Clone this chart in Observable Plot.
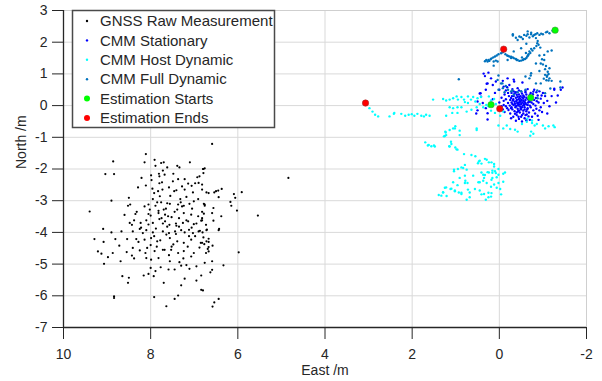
<!DOCTYPE html>
<html><head><meta charset="utf-8">
<script src="https://cdn.jsdelivr.net/npm/d3@7"></script>
<script src="https://cdn.jsdelivr.net/npm/@observablehq/plot@0.6"></script>
<style>
body{margin:0;background:#fff;}
#chart{position:relative;width:602px;height:381px;}
</style>
</head><body>
<div id="chart"></div>
<script>
// ---------- data (East /m, North /m) ----------
const xTicks = [10, 8, 6, 4, 2, 0, -2];
const yTicks = [3, 2, 1, 0, -1, -2, -3, -4, -5, -6, -7];
const legendLabels = ["GNSS Raw Measurement", "CMM Stationary", "CMM Host Dynamic", "CMM Full Dynamic", "Estimation Starts", "Estimation Ends"];
const seriesColors = ["#000000", "#0000ff", "#00ffff", "#0072bd", "#00ff00", "#ff0000"];

const gnss = [
[8.86,-1.76],[9.04,-2.16],[8.84,-2.16],[8.11,-1.53],[8.14,-1.79],[7.91,-1.71],[7.89,-1.90],[7.76,-1.81],[7.70,-1.79],[7.62,-1.95],
[7.39,-1.90],[7.34,-1.95],[7.10,-1.79],[6.80,-2.0],[8.21,-2.28],[7.99,-2.20],[7.80,-2.23],[7.81,-2.15],[7.68,-2.18],[7.49,-2.39],
[7.37,-2.32],[7.74,-2.42],[8.29,-2.58],[8.11,-2.52],[7.14,-2.46],[7.06,-2.53],[6.93,-2.26],[6.90,-2.44],[7.92,-2.76],[7.83,-2.70],
[7.73,-2.65],[7.79,-2.86],[7.46,-2.70],[7.41,-2.67],[7.22,-2.65],[7.03,-2.74],[6.72,-2.74],[8.50,-2.91],[8.90,-3.0],[8.52,-3.16],
[8.47,-3.12],[8.14,-3.18],[8.05,-3.12],[7.89,-3.16],[7.76,-3.05],[7.56,-3.10],[7.37,-3.12],[7.31,-3.05],[7.24,-3.16],[7.11,-3.10],
[7.01,-3.02],[6.91,-2.95],[6.76,-3.12],[9.40,-3.34],[8.35,-3.42],[8.05,-3.42],[8.0,-3.47],[7.82,-3.39],[7.70,-3.28],[7.67,-3.44],
[7.60,-3.49],[7.39,-3.28],[7.24,-3.39],[7.07,-3.44],[6.91,-3.49],[6.78,-3.41],[8.48,-3.70],[8.23,-3.70],[8.10,-3.62],[7.95,-3.70],
[7.80,-3.58],[7.67,-3.65],[7.57,-3.76],[7.41,-3.79],[7.26,-3.70],[7.14,-3.65],[7.01,-3.74],[6.82,-3.62],[8.43,-3.76],[9.09,-3.89],
[8.90,-4.0],[8.67,-3.97],[8.41,-3.97],[8.25,-3.89],[8.10,-3.93],[7.95,-4.0],[7.72,-3.97],[7.64,-4.07],[7.44,-3.97],[7.30,-3.93],
[7.22,-4.0],[7.03,-4.02],[6.90,-3.97],[6.72,-3.93],[9.29,-4.21],[9.08,-4.30],[8.81,-4.21],[8.54,-4.21],[8.33,-4.21],[8.14,-4.23],
[7.99,-4.18],[7.85,-4.28],[7.56,-4.18],[7.39,-4.28],[7.24,-4.33],[7.07,-4.23],[6.85,-4.33],[6.72,-4.28],[8.41,-4.49],[8.25,-4.57],
[8.08,-4.49],[7.91,-4.59],[7.72,-4.55],[7.53,-4.55],[7.37,-4.65],[7.24,-4.59],[7.01,-4.65],[9.21,-4.60],[9.13,-4.67],[8.98,-4.78],
[8.87,-4.65],[8.43,-4.73],[8.10,-4.81],[7.99,-4.86],[7.82,-4.81],[7.56,-4.91],[7.34,-4.94],[7.07,-4.76],[9.07,-4.99],[8.69,-4.91],
[8.0,-5.12],[7.77,-5.10],[7.89,-5.22],[7.59,-5.17],[7.45,-5.17],[7.30,-5.05],[7.18,-5.03],[7.11,-5.15],[6.95,-5.07],[8.65,-5.38],
[8.50,-5.43],[8.52,-5.59],[8.16,-5.36],[8.05,-5.31],[7.93,-5.38],[7.70,-5.59],[7.30,-5.67],[7.22,-5.46],[6.95,-5.52],[6.84,-5.81],
[8.84,-6.02],[8.84,-6.07],[7.92,-6.04],[7.64,-6.33],[7.45,-6.10],[7.37,-5.99],[6.76,-4.96],
[6.59,-1.21],[6.79,-2.0],[6.76,-1.98],[6.79,-2.13],[6.88,-2.23],[6.82,-2.49],[6.82,-2.65],[6.67,-2.76],[6.54,-2.74],[6.50,-2.70],
[6.45,-2.68],[6.37,-2.63],[6.44,-2.89],[6.09,-2.79],[6.06,-2.91],[5.91,-2.73],[6.17,-3.04],[6.15,-3.16],[6.78,-3.10],[6.76,-3.16],
[6.56,-3.23],[6.59,-3.39],[6.02,-3.31],[6.38,-3.49],[6.56,-3.63],[6.73,-3.76],[6.82,-3.55],[6.84,-3.63],[6.71,-3.91],[6.44,-3.93],
[6.43,-3.89],[6.87,-3.95],[6.81,-4.0],[6.79,-4.16],[6.67,-4.20],[6.67,-4.30],[6.77,-4.37],[6.82,-4.33],[6.58,-4.42],[6.67,-4.46],
[6.69,-4.52],[6.67,-4.60],[6.73,-4.65],[5.98,-4.63],[6.59,-4.91],[6.33,-5.04],[6.59,-5.18],[6.63,-5.26],[6.84,-5.36],[6.80,-5.83],
[6.44,-6.10],[6.54,-6.21],[6.58,-6.34],[4.84,-2.28],[5.54,-3.47],
[7.95,-2.95],[7.85,-3.05],[7.55,-2.85],[7.45,-3.35],[7.35,-3.55],[7.65,-3.25],[7.75,-3.55],[8.05,-3.75],[7.88,-3.88],[7.52,-3.52],
[7.28,-3.18],[7.18,-3.62],[7.62,-3.82],[7.42,-4.05],[7.12,-4.12],[7.92,-4.12],[8.18,-4.02],[7.78,-4.25],[7.48,-4.38],[7.15,-4.45],
[7.68,-4.55],[8.0,-4.4],[8.28,-4.3],[7.32,-2.95],[7.05,-3.25],[7.18,-2.88],[6.95,-3.72],[6.98,-4.12],[8.32,-3.35],[8.22,-3.85],
[7.58,-2.58],[7.8,-2.45],[7.96,-2.62],[7.22,-2.32],[6.98,-2.45],[7.72,-3.72],[7.42,-3.72],[7.06,-3.85],[7.86,-4.45],[7.58,-4.72],
[7.25,-4.82],[8.12,-4.65],[8.38,-3.62],[8.6,-3.45],[8.72,-4.42],[8.55,-4.62],[6.88,-4.48],[6.82,-3.35],[7.48,-2.15],[7.72,-2.05],
[7.62,-3.08],[7.35,-3.82],[7.58,-4.02],[7.82,-3.32],[8.02,-3.28],[7.98,-2.35],[7.28,-2.55],[7.12,-3.92],[7.52,-4.45],[8.38,-4.82]
];

const stationary = [
[-0.45,0.10],[-0.50,0.05],[-0.55,0.15],[-0.40,0.00],[-0.60,0.08],[-0.35,0.12],[-0.48,0.22],[-0.52,-0.05],[-0.42,-0.10],[-0.58,-0.12],
[-0.65,0.02],[-0.70,0.12],[-0.30,0.05],[-0.25,0.18],[-0.38,0.25],[-0.62,0.25],[-0.68,0.30],[-0.55,0.32],[-0.45,0.35],[-0.33,0.30],
[-0.28,-0.05],[-0.35,-0.18],[-0.47,-0.22],[-0.55,-0.25],[-0.62,-0.18],[-0.72,-0.05],[-0.78,0.05],[-0.80,0.18],[-0.75,0.28],[-0.20,0.08],
[-0.15,0.20],[-0.22,0.30],[-0.18,-0.08],[-0.40,-0.30],[-0.50,-0.35],[-0.60,-0.30],[-0.68,-0.22],[-0.85,-0.10],[-0.90,0.10],[-0.95,0.22],
[-0.88,0.32],[-0.72,0.40],[-0.60,0.42],[-0.50,0.45],[-0.38,0.42],[-0.28,0.40],[-0.12,0.35],[-0.10,0.02],[-0.08,-0.12],[-0.25,-0.25],
[-0.32,-0.35],[-0.45,-0.42],[-0.58,-0.40],[-0.75,-0.35],[-0.82,-0.25],[-0.95,-0.05],[-1.02,0.08],[-1.05,0.30],[-1.00,0.40],[-0.92,0.45],
[-0.80,0.50],[-0.65,0.52],[-0.42,0.55],[-0.30,0.52],[-0.15,0.48],[-0.05,0.25],[0.0,0.10],[-0.02,-0.05],[-0.12,-0.20],[-1.10,0.15],
[-1.15,-0.02],[-0.98,-0.20],[-0.88,-0.32],[-0.70,-0.45],[-0.52,-0.50],[-0.38,-0.48],
[-0.43,0.05],[-0.47,0.15],[-0.53,0.10],[-0.57,0.02],[-0.50,-0.12],[-0.40,0.18],[-0.60,0.18],[-0.65,-0.08],[-0.37,-0.05],[-0.45,-0.15],
[-0.55,0.22],[-0.42,0.28],[-0.32,0.20],[-0.28,0.10],[-0.68,0.15],[-0.72,0.20],[-0.58,-0.05],[-0.48,-0.03],[-0.62,0.35],[-0.35,0.38],
[-0.52,0.38],[-0.44,0.00],[-0.56,0.06],[-0.46,0.27],[-0.66,0.10],[-0.36,0.06],[-0.40,-0.22],[-0.63,-0.28],[-0.77,0.36],[-0.84,0.24],
[-0.41,0.08],[-0.49,0.12],[-0.51,0.18],[-0.46,0.04],[-0.54,0.00],[-0.39,0.14],[-0.44,0.20],[-0.58,0.12],[-0.62,0.04],[-0.53,0.26],
[-0.38,-0.02],[-0.33,0.02],[-0.31,0.16],[-0.27,0.24],[-0.49,-0.08],[-0.55,-0.16],[-0.43,-0.18],[-0.64,-0.12],[-0.70,0.00],[-0.74,0.10],
[-0.66,0.20],[-0.57,0.28],[-0.49,0.30],[-0.40,0.34],[-0.29,0.30],[-0.24,0.00],[-0.21,-0.14],[-0.30,-0.12],[-0.36,-0.26],[-0.52,-0.30],
[-0.67,-0.34],[-0.78,-0.15],[-0.83,0.00],[-0.86,0.14],[-0.70,0.34],[-0.60,0.47],[-0.45,0.48],[-0.33,0.45],[-0.20,0.40],[-0.10,0.15],
[-0.05,-0.02],[-0.15,-0.02],[-0.92,-0.15],[-0.97,0.32],[-0.85,0.42],[-0.44,-0.35],[-0.27,-0.40],[-0.62,-0.46],[-0.78,0.44],[-0.18,0.58],
[0.33,0.93],[0.19,0.86],[0.27,0.70],[0.15,0.65],[0.08,0.76],[-0.08,0.78],[-0.19,0.86],[-0.34,0.76],[-0.23,0.65],[0.31,0.50],
[0.42,0.28],[0.50,0.13],[0.38,0.08],[0.31,-0.08],[0.27,-0.24],[-0.27,-0.08],[-1.26,0.50],[-1.41,0.50],[-1.34,0.32],[0.36,1.01],
[0.25,1.04],[0.29,0.69],[0.45,0.38],[0.50,-0.15],[0.27,-0.44],[-0.33,0.82],[-0.53,0.73],[-1.45,0.57],[-1.26,0.53],[0.43,0.39],
[0.53,-0.25],[-1.2,0.3],[-1.3,0.1],[-1.1,-0.25],[-0.9,-0.45],[0.1,0.4],[0.0,0.5],[-0.1,0.6],[0.15,0.2]
];

const hostDynamic = [
[2.98,-0.08],[2.91,-0.19],[2.85,-0.29],[2.78,-0.34],[2.52,-0.34],[2.42,-0.26],[2.41,-0.23],[2.25,-0.26],[2.16,-0.32],[2.08,-0.29],
[2.01,-0.27],[1.95,-0.32],[1.88,-0.26],[1.79,-0.32],[1.73,-0.34],[1.68,-0.29],[1.60,-0.32],[1.52,0.19],[1.29,0.21],[1.22,0.16],
[1.14,0.19],[1.06,0.23],[0.98,0.29],[0.95,0.19],[0.87,0.27],[0.81,0.19],[0.72,0.29],[0.65,0.19],[0.60,0.27],[0.50,0.23],
[0.42,0.27],[0.24,0.29],[0.19,0.16],[0.12,0.21],[1.14,-0.05],[1.06,-0.08],[0.96,-0.05],[0.87,-0.05],[0.79,0.11],[0.72,0.08],
[0.55,0.13],[0.45,0.05],[0.37,-0.05],[0.52,-0.05],[0.64,-0.13],[0.75,-0.19],[0.96,-0.23],[1.08,-0.23],[1.22,-0.32],[0.19,-0.16],
[0.10,-0.23],[-0.02,-0.32],[-0.09,-0.19],[0.02,-0.63],[-0.09,-0.72],[-0.17,-0.63],[-0.25,-0.74],[-0.36,-0.76],[-0.42,-0.82],[-0.52,-0.58],
[-0.63,-0.51],[-0.75,-0.55],[-0.81,-0.63],[-0.86,-0.58],[-0.73,-0.82],[-0.78,-0.89],[-0.71,-0.95],[-1.05,-0.72],[-1.13,-0.65],[-1.27,-0.68],
[0.52,-0.72],[1.06,-0.72],[1.01,-0.65],[1.24,-0.82],[1.22,-0.93],[1.27,-0.97],[0.91,-0.93],[1.11,-1.14],[1.15,-1.28],[1.70,-1.16],
[1.62,-1.24],[1.56,-1.28],[1.50,-1.26],[1.01,-1.32],[0.96,-1.39],[0.81,-1.53],[0.64,-1.56],[0.55,-1.60],[0.45,-1.74],[0.33,-1.68],
[0.24,-1.79],[0.12,-1.84],[0.49,-1.82],[0.79,-1.87],[0.87,-1.95],[0.75,-2.02],[1.04,-2.02],[0.41,-2.11],[0.33,-2.19],[0.24,-2.11],
[0.16,-2.05],[0.08,-2.13],[0.02,-2.0],[-0.13,-2.11],[0.06,-2.26],[0.18,-2.34],[0.37,-2.37],[0.48,-2.42],[0.78,-2.37],[0.73,-2.44],
[1.06,-2.42],[0.96,-2.51],[1.12,-2.63],[1.02,-2.68],[0.93,-2.74],[1.22,-2.58],[1.29,-2.74],[1.39,-2.82],[1.33,-2.84],[0.87,-2.79],
[0.68,-2.74],[0.56,-2.63],[0.45,-2.68],[0.35,-2.79],[0.25,-2.89],[0.18,-2.76],[-0.02,-2.63],[-0.09,-2.40],[0.68,-2.89],[0.75,-2.97],
[0.31,-2.97],[1.64,-1.26],[1.48,-1.29],[1.14,-1.29],[1.10,-1.21],[0.98,-1.38],[1.25,-0.96],[1.23,-0.85],[1.14,-0.77],[1.02,-0.72],
[0.91,-0.79],[0.52,-0.77],[0.47,-1.76],[0.41,-1.83],[0.29,-1.71],[0.18,-1.79],[0.12,-1.92],[1.04,-2.07],[0.95,-2.0],[0.83,-1.97],
[0.79,-2.21],[0.91,-2.28],[0.79,-2.44],[0.60,-2.21],[0.37,-2.18],[0.27,-2.10],[0.16,-2.12],[0.10,-2.07],[0.02,-2.18],[-0.09,-2.15],
[0.35,-2.28],[0.45,-2.42],[0.29,-2.44],[0.16,-2.28],[0.12,-2.49],[0.02,-2.44],[0.19,-2.56],[0.06,-2.59],[0.72,-2.65],[0.87,-2.75],
[1.02,-2.70],[1.10,-2.62],[1.25,-2.59],[1.29,-2.73],[1.21,-2.85],[0.41,-2.80],[0.25,-2.75],[0.19,-2.87],[-0.04,-2.80],
[-0.64,-0.41],[-0.75,-0.47],[-1.0,-0.63],[-1.24,-0.63],[0.30,0.02],[0.08,0.05],[0.02,-0.05],[0.25,-0.02]
];

const fullDynamic = [
[-1.15,2.28],[-1.07,2.31],[-1.0,2.25],[-0.92,2.23],[-0.87,2.28],[-0.80,2.23],[-0.73,2.25],[-0.65,2.25],[-0.57,2.23],[-0.46,2.18],
[-0.31,2.21],[-0.42,2.07],[-0.54,2.10],[-0.69,2.15],[-0.84,2.13],[-0.88,2.04],[-0.87,1.97],[-0.94,1.83],[-0.80,1.81],[-0.73,1.79],
[-0.69,1.71],[-0.67,1.62],[-0.64,1.55],[-0.59,1.47],[-0.54,1.44],[-0.46,1.41],[-0.38,1.47],[-0.31,1.52],[-0.23,1.55],[-0.18,1.58],
[-0.04,1.65],[0.02,1.62],[0.18,1.49],[0.23,1.41],[0.27,1.39],[0.13,1.39],[0.04,1.39],[-0.19,1.44],[-0.33,1.71],[-0.50,1.81],
[-0.92,1.58],[-1.03,1.60],[-1.11,1.71],[-1.20,1.74],[-1.03,1.44],[-0.95,1.33],[-0.84,1.33],[-1.15,1.18],[-1.11,1.07],[-1.05,0.97],
[-1.09,0.91],[-1.15,0.86],[-1.20,0.78],[-1.40,0.76],[-0.73,1.02],[-0.69,0.86],[-0.92,1.09],[-0.84,0.70],[0.04,0.81],[-0.04,0.70],
[-0.08,0.55],[0.02,0.50],[-0.27,0.45],[-0.33,0.34],[-0.50,0.45],[-0.88,0.23],[-1.05,0.39],[0.93,0.83],[-0.31,2.25],[-0.65,2.34],
[-0.73,2.30],[-0.61,1.66],[-0.52,1.52],[-0.40,1.44],[-0.27,1.50],[0.10,1.55],[0.20,1.46],[0.30,1.44],[-1.40,0.57],[-1.13,0.79],
[-1.10,0.95],[0.13,1.26],[0.02,0.95],[-0.07,0.70],[-0.30,0.48],[-0.42,0.42],[-0.60,0.50],[-0.72,0.95],[-0.87,0.48],[-0.95,0.70],
[-1.0,1.30],[-1.05,1.15],[-1.08,0.80],[-1.17,0.54],
[-1.22,2.36],[-1.10,2.33],[-0.96,2.27],[-0.83,2.25],[-0.77,2.19],[-0.62,2.20],[-0.50,2.16],[-0.38,2.14],[-0.90,1.92],[-0.85,1.88],
[-0.76,1.74],[-0.71,1.66],[-0.66,1.58],[-0.62,1.50],[-0.56,1.46],[-0.50,1.42],[-0.42,1.44],[-0.34,1.49],[-0.27,1.54],[-0.20,1.57],
[-0.14,1.62],[-0.08,1.68],[0.06,1.58],[0.14,1.52],[0.25,1.44],[0.33,1.40],[0.08,1.42],[-0.62,1.95],[-0.98,1.46],[-1.07,1.25],
[-1.13,1.00],[-1.02,0.85],[-0.60,0.92],[-0.15,0.62],[-0.20,0.50],[-0.12,0.42]
];

const starts = [[-1.28, 2.38], [-0.72, 0.25], [0.19, 0.03]];
const ends = [[-0.1, 1.78], [-0.01, -0.10], [3.07, 0.08]];

// ---------- chart ----------
const font = '"Liberation Sans", Arial, Helvetica, sans-serif';
const X = d => d[0], Y = d => d[1];

const chart = Plot.plot({
  width: 602, height: 381,
  marginLeft: 63, marginRight: 16, marginTop: 10, marginBottom: 54,
  style: {fontFamily: font, fontSize: "14px", color: "#262626", background: "#fff", overflow: "visible"},
  x: {domain: [10, -2], label: null},
  y: {domain: [-7, 3], label: null},
  marks: [
    Plot.gridX(xTicks, {stroke: "#d9d9d9", strokeOpacity: 1}),
    Plot.gridY(yTicks, {stroke: "#d9d9d9", strokeOpacity: 1}),
    Plot.dot(gnss, {x: X, y: Y, r: 1.1, fill: seriesColors[0]}),
    Plot.dot(stationary, {x: X, y: Y, r: 1.2, fill: seriesColors[1]}),
    Plot.dot(hostDynamic, {x: X, y: Y, r: 1.2, fill: seriesColors[2]}),
    Plot.dot(fullDynamic, {x: X, y: Y, r: 1.2, fill: seriesColors[3]}),
    Plot.dot(starts, {x: X, y: Y, r: 3.2, fill: seriesColors[4], stroke: "#3a9a3a", strokeWidth: 0.6}),
    Plot.dot(ends, {x: X, y: Y, r: 3.2, fill: seriesColors[5], stroke: "#a03030", strokeWidth: 0.6}),
    Plot.ruleX([-2], {stroke: "#cfcfcf"}),
    Plot.ruleY([3], {stroke: "#cfcfcf"}),
    Plot.ruleY([-7], {stroke: "#262626", strokeWidth: 1.3}),
    Plot.ruleX([10], {stroke: "#262626", strokeWidth: 1.3}),
    Plot.axisX(xTicks, {tickSize: 12, tickPadding: 10, tickFormat: d => String(d), stroke: "#262626", fill: "#262626", fontSize: 14, label: null}),
    Plot.axisY(yTicks, {tickSize: 11, tickPadding: 5, tickFormat: d => String(d), stroke: "#262626", fill: "#262626", fontSize: 14, label: null}),
    Plot.text(["East /m"], {frameAnchor: "bottom", dy: 47, fontSize: 14, fill: "#262626"}),
    Plot.text(["North /m"], {frameAnchor: "left", dx: -42, rotate: -90, fontSize: 14, fill: "#262626"})
  ]
});
document.getElementById("chart").appendChild(chart);

// legend drawn inside the axes (MATLAB style)
const svg = d3.select(chart);
const lg = svg.append("g").attr("font-family", font).attr("font-size", 15).attr("fill", "#262626").attr("text-anchor", "start");
lg.append("rect").attr("x", 72.5).attr("y", 10.5).attr("width", 202).attr("height", 117)
  .attr("fill", "#fff").attr("stroke", "#4a4a4a").attr("stroke-width", 1.5);
legendLabels.forEach((lab, i) => {
  const cy = 21 + i * 19.4;
  const big = i >= 4;
  lg.append("circle").attr("cx", 87).attr("cy", cy).attr("r", big ? 3 : 1.2).attr("fill", seriesColors[i]);
  lg.append("text").attr("x", 100).attr("y", cy).attr("dy", "0.35em").attr("text-anchor", "start").text(lab);
});
</script>
</body></html>
